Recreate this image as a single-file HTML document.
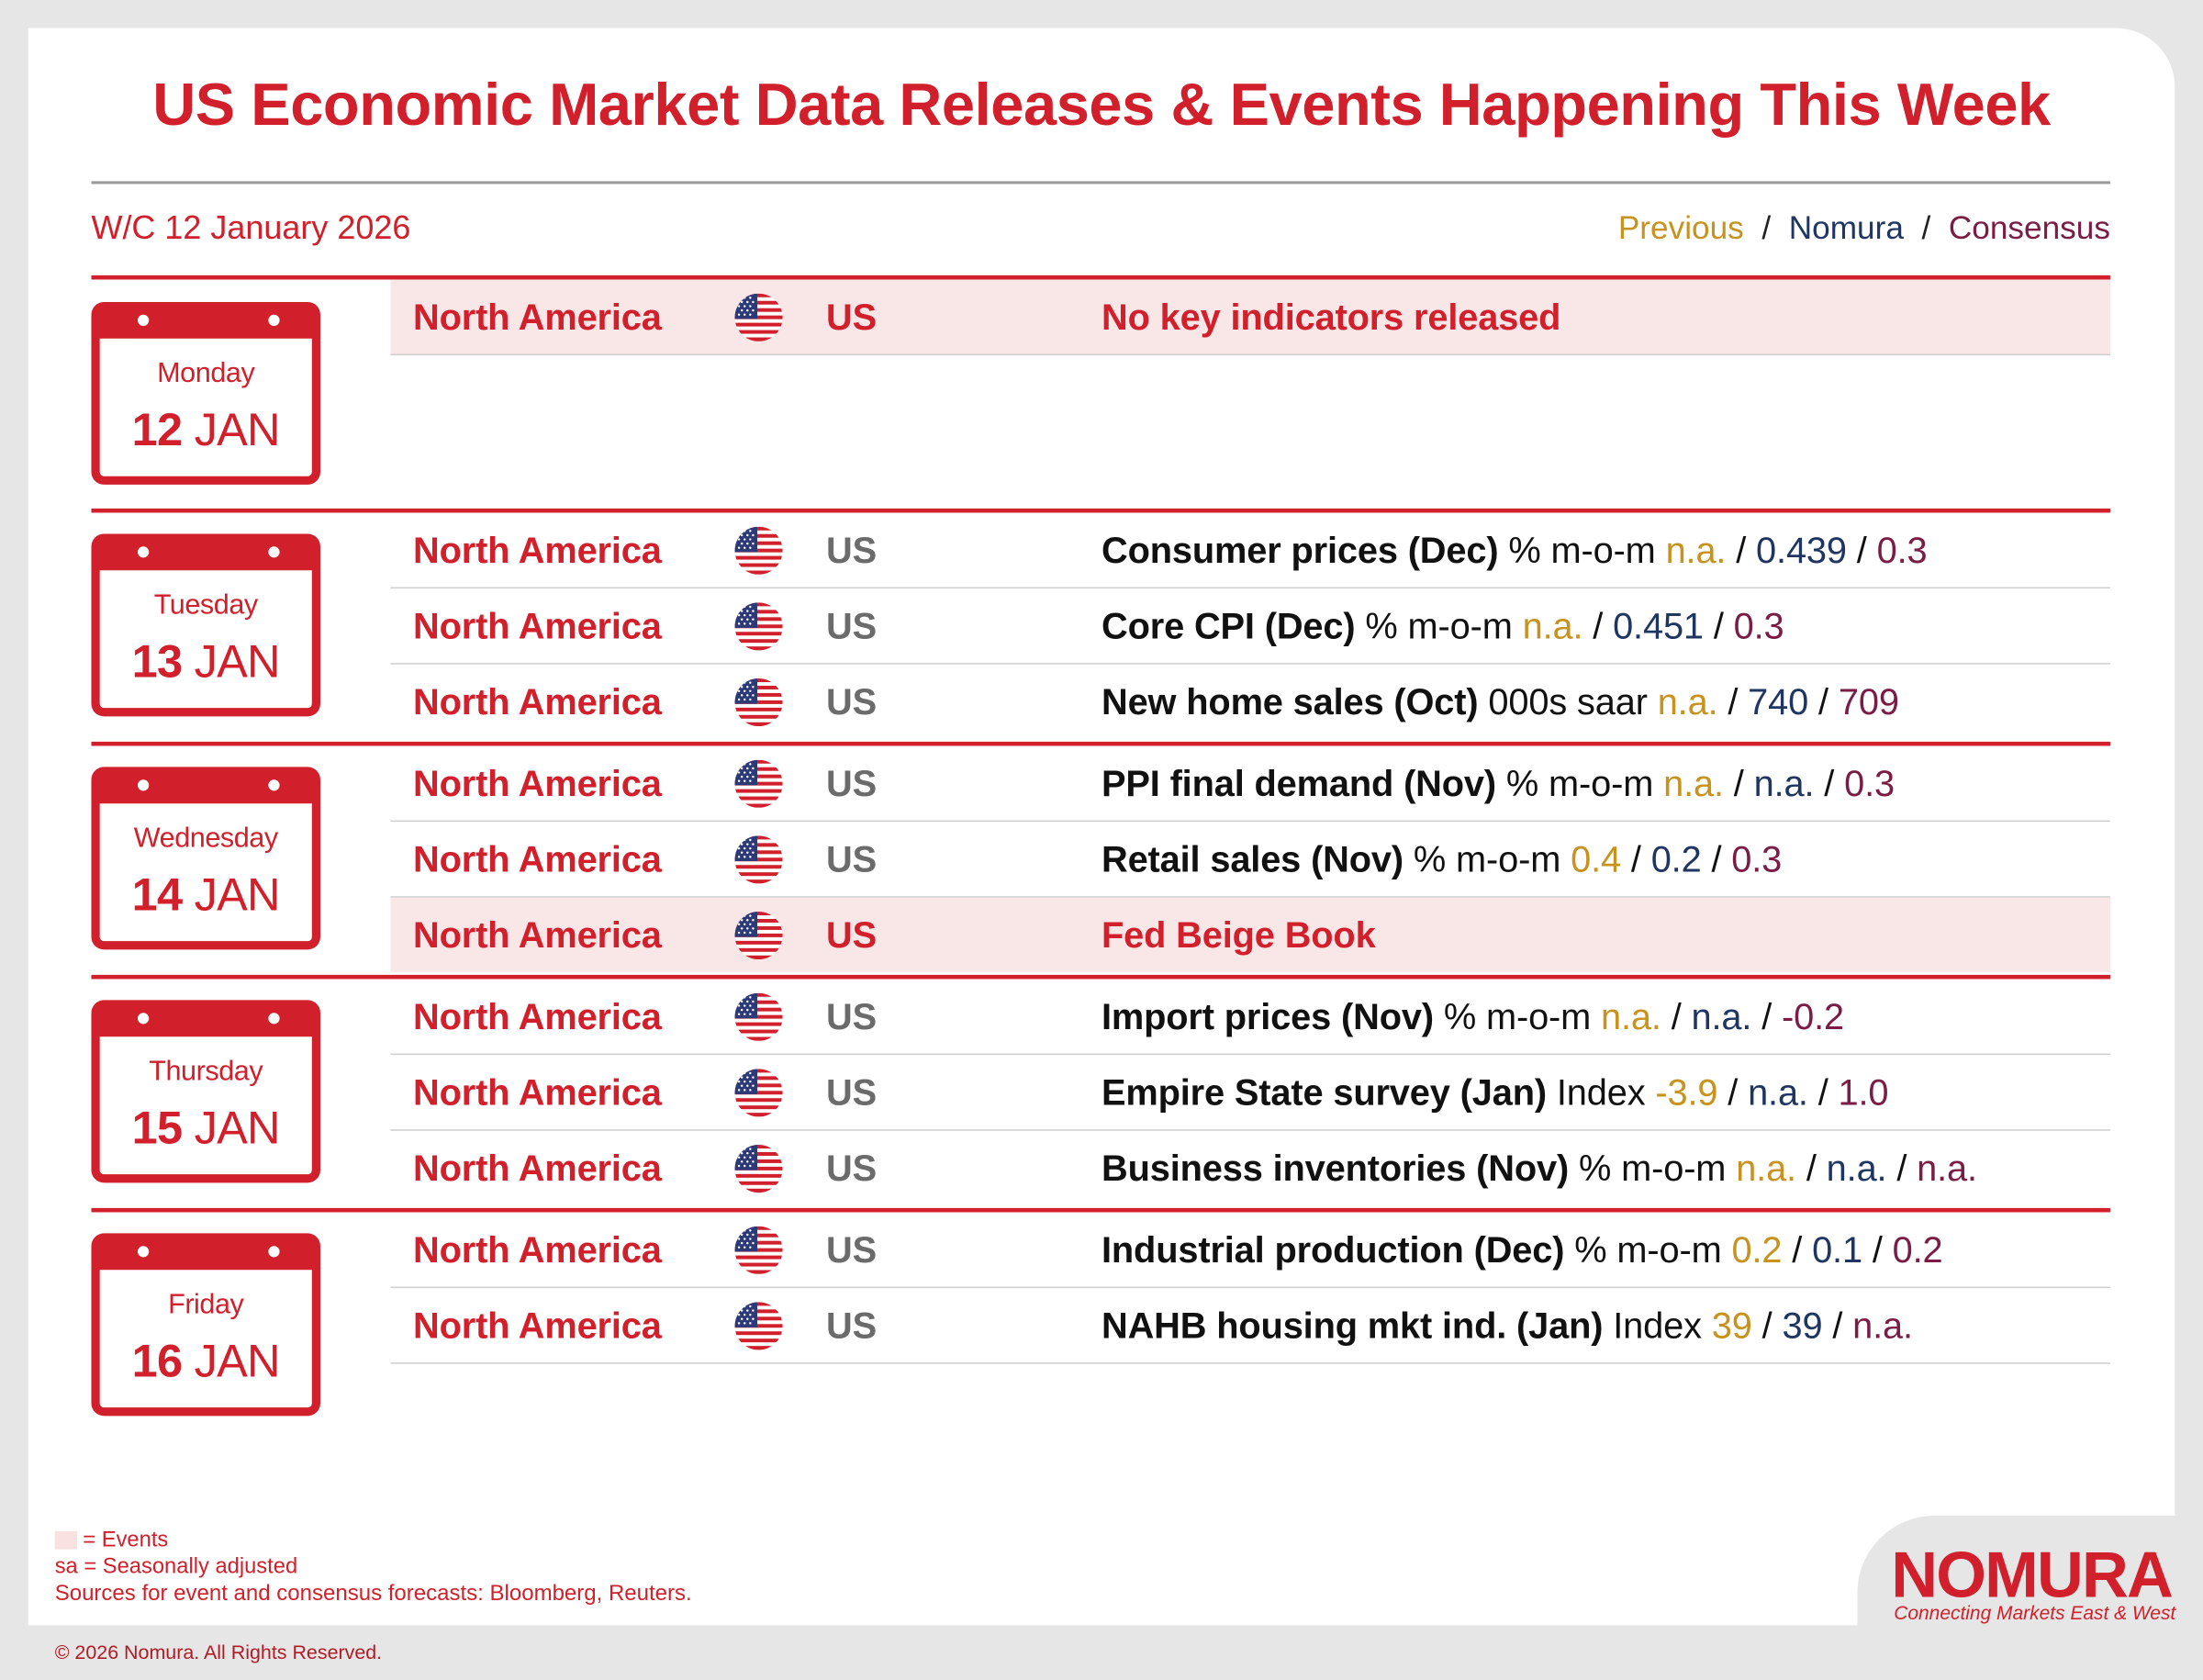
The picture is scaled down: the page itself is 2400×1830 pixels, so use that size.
<!DOCTYPE html>
<html><head><meta charset="utf-8">
<style>
html,body{margin:0;padding:0;background:#e6e6e6;width:2400px;height:1830px;overflow:hidden}
#f{position:absolute;left:0;top:0;width:1568px;height:1196px;transform:scale(1.5306,1.5301);transform-origin:0 0;font-family:"Liberation Sans",Arial,sans-serif}
.a{position:absolute;white-space:nowrap}
.card{position:absolute;left:20px;top:20px;width:1528px;height:1137px;background:#fff;border-top-right-radius:42px}
.logo{position:absolute;left:1322px;top:1079px;width:246px;height:117px;background:#e6e6e6;border-top-left-radius:55px}
.red{color:#d1202b}
.rl{position:absolute;left:65px;width:1437px;height:3px;background:#d1202b}
.row{position:absolute;left:278px;width:1224px;height:53px;border-bottom:1.5px solid #cfcfcf}
.row.ev{background:#f9e6e7}
.row>span{position:absolute;top:50%;transform:translateY(-50%);font-size:26px;letter-spacing:-0.1px;white-space:nowrap}
.na{left:16px;font-weight:bold;color:#d1202b}
.us{left:310px;font-weight:bold;color:#6b6b6b}
.ev .us{color:#d1202b}
.ds{left:506px;color:#111}
.ds b{color:#111}
.p{color:#c8921e}.n{color:#1f3562}.c{color:#7b1c45}
.fl{position:absolute;left:245px;top:50%;margin-top:-17px;width:34px;height:34px}
.cal{position:absolute;left:65px;width:163px;height:130px;box-sizing:border-box;border:6px solid #d1202b;border-top-width:26px;border-radius:9px;background:#fff}
.cal:before,.cal:after{content:"";position:absolute;top:-17px;width:8px;height:8px;border-radius:50%;background:#fff}
.cal:before{left:27px}.cal:after{left:120px}
.cal .d{position:absolute;left:0;right:0;top:14px;text-align:center;font-size:20px;color:#d1202b;letter-spacing:-0.3px}
.cal .t{position:absolute;left:0;right:0;top:46px;text-align:center;font-size:33px;color:#d1202b;letter-spacing:-0.5px}
</style></head><body>
<svg width="0" height="0" style="position:absolute"><defs>
<clipPath id="cc"><circle cx="17" cy="17" r="17"/></clipPath>
<symbol id="flag" viewBox="0 0 34 34"><g clip-path="url(#cc)">
<rect width="34" height="34" fill="#fff"/>
<rect y="0" width="34" height="2.6" fill="#d1202b"/><rect y="5.2" width="34" height="2.6" fill="#d1202b"/><rect y="10.4" width="34" height="2.6" fill="#d1202b"/><rect y="15.6" width="34" height="2.6" fill="#d1202b"/><rect y="20.8" width="34" height="2.6" fill="#d1202b"/><rect y="26" width="34" height="2.6" fill="#d1202b"/><rect y="31.2" width="34" height="2.8" fill="#d1202b"/>
<rect width="16" height="18" fill="#2d3a78"/>
<g fill="#fff"><circle cx="3" cy="3" r=".8"/><circle cx="7" cy="3" r=".8"/><circle cx="11" cy="3" r=".8"/><circle cx="5" cy="6" r=".8"/><circle cx="9" cy="6" r=".8"/><circle cx="13" cy="6" r=".8"/><circle cx="3" cy="9" r=".8"/><circle cx="7" cy="9" r=".8"/><circle cx="11" cy="9" r=".8"/><circle cx="5" cy="12" r=".8"/><circle cx="9" cy="12" r=".8"/><circle cx="13" cy="12" r=".8"/><circle cx="3" cy="15" r=".8"/><circle cx="7" cy="15" r=".8"/><circle cx="11" cy="15" r=".8"/></g>
</g></symbol></defs></svg>
<div id="f">
<div class="card"></div>
<div class="logo"></div>
<div class="a red" style="left:0;width:1568px;text-align:center;top:52px;font-size:42.5px;font-weight:bold;letter-spacing:-0.3px">US Economic Market Data Releases &amp; Events Happening This Week</div>
<div class="a" style="left:65px;top:129px;width:1437px;height:1.5px;background:#9a9a9a"></div>
<div class="a red" style="left:65px;top:149px;font-size:23.5px">W/C 12 January 2026</div>
<div class="a" style="right:66px;top:149px;font-size:23px;color:#222"><span class="p">Previous</span> &nbsp;/ &nbsp;<span class="n">Nomura</span> &nbsp;/ &nbsp;<span class="c">Consensus</span></div>

<div class="rl" style="top:196px"></div>
<div class="rl" style="top:362px"></div>
<div class="rl" style="top:528px"></div>
<div class="rl" style="top:694px"></div>
<div class="rl" style="top:860px"></div>

<div class="cal" style="top:215px"><div class="d">Monday</div><div class="t"><b>12</b> JAN</div></div>
<div class="cal" style="top:380px"><div class="d">Tuesday</div><div class="t"><b>13</b> JAN</div></div>
<div class="cal" style="top:546px"><div class="d">Wednesday</div><div class="t"><b>14</b> JAN</div></div>
<div class="cal" style="top:712px"><div class="d">Thursday</div><div class="t"><b>15</b> JAN</div></div>
<div class="cal" style="top:878px"><div class="d">Friday</div><div class="t"><b>16</b> JAN</div></div>

<div class="row ev" style="top:199px"><span class="na">North America</span><svg class="fl"><use href="#flag"/></svg><span class="us">US</span><span class="ds" style="color:#d1202b;font-weight:bold">No key indicators released</span></div>

<div class="row" style="top:365px"><span class="na">North America</span><svg class="fl"><use href="#flag"/></svg><span class="us">US</span><span class="ds"><b>Consumer prices (Dec)</b> % m-o-m <span class="p">n.a.</span> / <span class="n">0.439</span> / <span class="c">0.3</span></span></div>
<div class="row" style="top:419px"><span class="na">North America</span><svg class="fl"><use href="#flag"/></svg><span class="us">US</span><span class="ds"><b>Core CPI (Dec)</b> % m-o-m <span class="p">n.a.</span> / <span class="n">0.451</span> / <span class="c">0.3</span></span></div>
<div class="row" style="top:473px;border-bottom:none"><span class="na">North America</span><svg class="fl"><use href="#flag"/></svg><span class="us">US</span><span class="ds"><b>New home sales (Oct)</b> 000s saar <span class="p">n.a.</span> / <span class="n">740</span> / <span class="c">709</span></span></div>

<div class="row" style="top:531px"><span class="na">North America</span><svg class="fl"><use href="#flag"/></svg><span class="us">US</span><span class="ds"><b>PPI final demand (Nov)</b> % m-o-m <span class="p">n.a.</span> / <span class="n">n.a.</span> / <span class="c">0.3</span></span></div>
<div class="row" style="top:585px"><span class="na">North America</span><svg class="fl"><use href="#flag"/></svg><span class="us">US</span><span class="ds"><b>Retail sales (Nov)</b> % m-o-m <span class="p">0.4</span> / <span class="n">0.2</span> / <span class="c">0.3</span></span></div>
<div class="row ev" style="top:639px;border-bottom:none"><span class="na">North America</span><svg class="fl"><use href="#flag"/></svg><span class="us">US</span><span class="ds" style="color:#d1202b;font-weight:bold">Fed Beige Book</span></div>

<div class="row" style="top:697px"><span class="na">North America</span><svg class="fl"><use href="#flag"/></svg><span class="us">US</span><span class="ds"><b>Import prices (Nov)</b> % m-o-m <span class="p">n.a.</span> / <span class="n">n.a.</span> / <span class="c">-0.2</span></span></div>
<div class="row" style="top:751px"><span class="na">North America</span><svg class="fl"><use href="#flag"/></svg><span class="us">US</span><span class="ds"><b>Empire State survey (Jan)</b> Index <span class="p">-3.9</span> / <span class="n">n.a.</span> / <span class="c">1.0</span></span></div>
<div class="row" style="top:805px;border-bottom:none"><span class="na">North America</span><svg class="fl"><use href="#flag"/></svg><span class="us">US</span><span class="ds"><b>Business inventories (Nov)</b> % m-o-m <span class="p">n.a.</span> / <span class="n">n.a.</span> / <span class="c">n.a.</span></span></div>

<div class="row" style="top:863px"><span class="na">North America</span><svg class="fl"><use href="#flag"/></svg><span class="us">US</span><span class="ds"><b>Industrial production (Dec)</b> % m-o-m <span class="p">0.2</span> / <span class="n">0.1</span> / <span class="c">0.2</span></span></div>
<div class="row" style="top:917px"><span class="na">North America</span><svg class="fl"><use href="#flag"/></svg><span class="us">US</span><span class="ds"><b>NAHB housing mkt ind. (Jan)</b> Index <span class="p">39</span> / <span class="n">39</span> / <span class="c">n.a.</span></span></div>

<div class="a" style="left:39px;top:1090px;width:16px;height:13px;background:#f9e0e1"></div>
<div class="a red" style="left:59px;top:1088px;font-size:15.5px">= Events</div>
<div class="a red" style="left:39px;top:1107px;font-size:15.5px">sa = Seasonally adjusted</div>
<div class="a red" style="left:39px;top:1126px;font-size:15.7px">Sources for event and consensus forecasts: Bloomberg, Reuters.</div>
<div class="a" style="left:39px;top:1168px;font-size:14px;color:#b01c25">© 2026 Nomura. All Rights Reserved.</div>

<div class="a red" style="left:1346px;top:1094px;font-size:46px;font-weight:bold;letter-spacing:-1.2px">NOMURA</div>
<div class="a red" style="left:1348px;top:1141px;font-size:13.7px;font-style:italic">Connecting Markets East &amp; West</div>
</div>
</body></html>
